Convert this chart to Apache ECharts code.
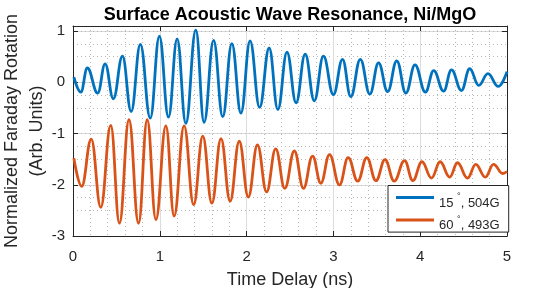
<!DOCTYPE html>
<html>
<head>
<meta charset="utf-8">
<script src="https://cdn.jsdelivr.net/npm/echarts@6/dist/echarts.min.js"></script>
<style>
html,body{margin:0;padding:0;background:#fff;}
#chart{width:560px;height:288px;}
</style>
</head>
<body>
<div id="chart"></div>
<script>
// Data (peaks/troughs of each trace)
var blueTime = [0.01,0.09,0.165,0.285,0.37,0.465,0.57,0.67,0.776,0.89,0.995,1.10,1.20,1.30,1.415,1.51,1.62,1.725,1.83,1.935,2.04,2.15,2.26,2.36,2.465,2.57,2.675,2.78,2.885,3.00,3.105,3.20,3.31,3.42,3.52,3.625,3.73,3.835,3.94,4.06,4.155,4.27,4.36,4.475,4.57,4.675,4.78,4.90,5.0];
var blueValue = [0.10,-0.19,0.28,-0.21,0.36,-0.32,0.51,-0.57,0.74,-0.70,0.90,-0.68,0.85,-0.80,1.02,-0.78,0.82,-0.67,0.755,-0.60,0.81,-0.49,0.67,-0.53,0.59,-0.40,0.55,-0.36,0.51,-0.24,0.45,-0.28,0.45,-0.23,0.38,-0.18,0.42,-0.21,0.34,-0.19,0.23,-0.17,0.245,-0.16,0.265,-0.06,0.17,-0.08,0.21];
var orangeTime = [0.01,0.10,0.21,0.32,0.435,0.535,0.645,0.755,0.855,0.955,1.07,1.165,1.28,1.39,1.495,1.60,1.705,1.81,1.915,2.02,2.125,2.23,2.335,2.44,2.55,2.655,2.76,2.855,2.955,3.07,3.17,3.28,3.385,3.49,3.595,3.70,3.82,3.915,4.02,4.13,4.23,4.34,4.43,4.545,4.64,4.75,4.845,4.95,5.0];
var orangeValue = [-1.48,-2.03,-1.11,-2.44,-0.84,-2.75,-0.73,-2.75,-0.73,-2.68,-0.85,-2.61,-0.85,-2.39,-1.05,-2.36,-1.10,-2.32,-1.15,-2.24,-1.22,-2.14,-1.30,-2.07,-1.34,-2.07,-1.44,-1.97,-1.41,-2.00,-1.47,-1.93,-1.47,-1.92,-1.51,-1.93,-1.53,-1.92,-1.55,-1.87,-1.55,-1.85,-1.57,-1.87,-1.60,-1.85,-1.60,-1.78,-1.74];
var seriesNames = ['15°, 504G', '60°, 493G'];
var legendAngles = ['15', '60'];
var legendFields = ['504G', '493G'];

function pairs(t, v) { return t.map(function (x, i) { return [x, v[i]]; }); }

var FONT = '"Liberation Sans", Arial, Helvetica, sans-serif';
var TXT = '#262626';
var chart = echarts.init(document.getElementById('chart'), null, {renderer: 'canvas'});

var option = {
  animation: false,
  backgroundColor: '#ffffff',
  textStyle: {fontFamily: FONT},
  title: {
    text: 'Surface Acoustic Wave Resonance, Ni/MgO',
    left: 285, top: 1, textAlign: 'center',
    textStyle: {fontFamily: FONT, fontSize: 18, fontWeight: 'bold', color: '#000'}
  },
  grid: {left: 73, right: 53, top: 26, bottom: 52, containLabel: false, outerBoundsMode: 'none'},
  legend: {
    orient: 'vertical',
    left: 388, top: 185.5,
    padding: [0, 9, 0, 8],
    itemGap: -1.4,
    itemWidth: 38, itemHeight: 3,
    icon: 'rect',
    backgroundColor: '#ffffff',
    borderColor: TXT, borderWidth: 1,
    data: seriesNames,
    formatter: function (name) {
      var i = seriesNames.indexOf(name);
      return '{n|' + legendAngles[i] + ' }{s|°}{n|, ' + legendFields[i] + '}';
    },
    textStyle: {
      fontFamily: FONT, fontSize: 13, color: TXT,
      rich: {
        n: {fontFamily: FONT, fontSize: 13, color: TXT, lineHeight: 15, verticalAlign: 'bottom'},
        s: {fontFamily: FONT, fontSize: 9, color: TXT, lineHeight: 24, verticalAlign: 'top', padding: [7, 0, 0, 0]}
      }
    }
  },
  xAxis: [{
    type: 'value', position: 'bottom', min: 0, max: 5, interval: 1,
    name: 'Time Delay (ns)', nameLocation: 'middle', nameGap: 35, nameMoveOverlap: false,
    nameTextStyle: {fontFamily: FONT, fontSize: 18, color: TXT},
    axisLine: {show: true, onZero: false, lineStyle: {color: TXT, width: 1}},
    axisTick: {show: true, inside: true, length: 5, lineStyle: {color: TXT}},
    axisLabel: {fontFamily: FONT, fontSize: 15, color: TXT, margin: 13},
    splitLine: {show: true, showMinLine: false, showMaxLine: false, lineStyle: {color: '#dcdcdc', width: 1}},
    minorTick: {show: false, splitNumber: 5},
    minorSplitLine: {show: true, lineStyle: {color: '#b8b8b8', width: 1, type: [1, 3]}}
  }, {
    type: 'value', position: 'top', min: 0, max: 5, interval: 1,
    axisLine: {show: true, onZero: false, lineStyle: {color: TXT, width: 1}},
    axisTick: {show: true, inside: true, length: 5, lineStyle: {color: TXT}},
    axisLabel: {show: false},
    splitLine: {show: false}
  }],
  yAxis: [{
    type: 'value', position: 'left', min: -3, max: 1.1, interval: 1,
    name: 'Normalized Faraday Rotation\n(Arb. Units)', nameLocation: 'middle', nameGap: 23, nameMoveOverlap: false,
    nameTextStyle: {fontFamily: FONT, fontSize: 18, color: TXT, lineHeight: 25},
    axisLine: {show: true, onZero: false, lineStyle: {color: TXT, width: 1}},
    axisTick: {show: true, inside: true, length: 5, lineStyle: {color: TXT}},
    axisLabel: {fontFamily: FONT, fontSize: 15, color: TXT, margin: 8, showMaxLabel: false},
    splitLine: {show: true, showMinLine: false, showMaxLine: false, lineStyle: {color: '#dcdcdc', width: 1}}
  }, {
    type: 'value', position: 'right', min: -3, max: 1.1, interval: 1,
    axisLine: {show: true, onZero: false, lineStyle: {color: TXT, width: 1}},
    axisTick: {show: true, inside: true, length: 5, lineStyle: {color: TXT}},
    axisLabel: {show: false},
    splitLine: {show: false}
  }, {
    type: 'value', position: 'left', offset: 0, min: -3, max: 1.1, interval: 0.25,
    axisLine: {show: false}, axisTick: {show: false}, axisLabel: {show: false},
    splitLine: {show: true, showMinLine: false, showMaxLine: false,
      lineStyle: {color: ['rgba(0,0,0,0)', '#b8b8b8', '#b8b8b8', '#b8b8b8'], width: 1, type: [1, 3]}}
  }],
  series: [{
    name: seriesNames[0], type: 'line', xAxisIndex: 0, yAxisIndex: 0,
    data: pairs(blueTime, blueValue),
    smooth: 0.42, smoothMonotone: 'x', showSymbol: false, symbol: 'none',
    lineStyle: {color: '#0072BD', width: 2.8}, itemStyle: {color: '#0072BD'}, z: 5
  }, {
    name: seriesNames[1], type: 'line', xAxisIndex: 0, yAxisIndex: 0,
    data: pairs(orangeTime, orangeValue),
    smooth: 0.42, smoothMonotone: 'x', showSymbol: false, symbol: 'none',
    lineStyle: {color: '#D95319', width: 2.8}, itemStyle: {color: '#D95319'}, z: 5
  }]
};
chart.setOption(option);
</script>
</body>
</html>
